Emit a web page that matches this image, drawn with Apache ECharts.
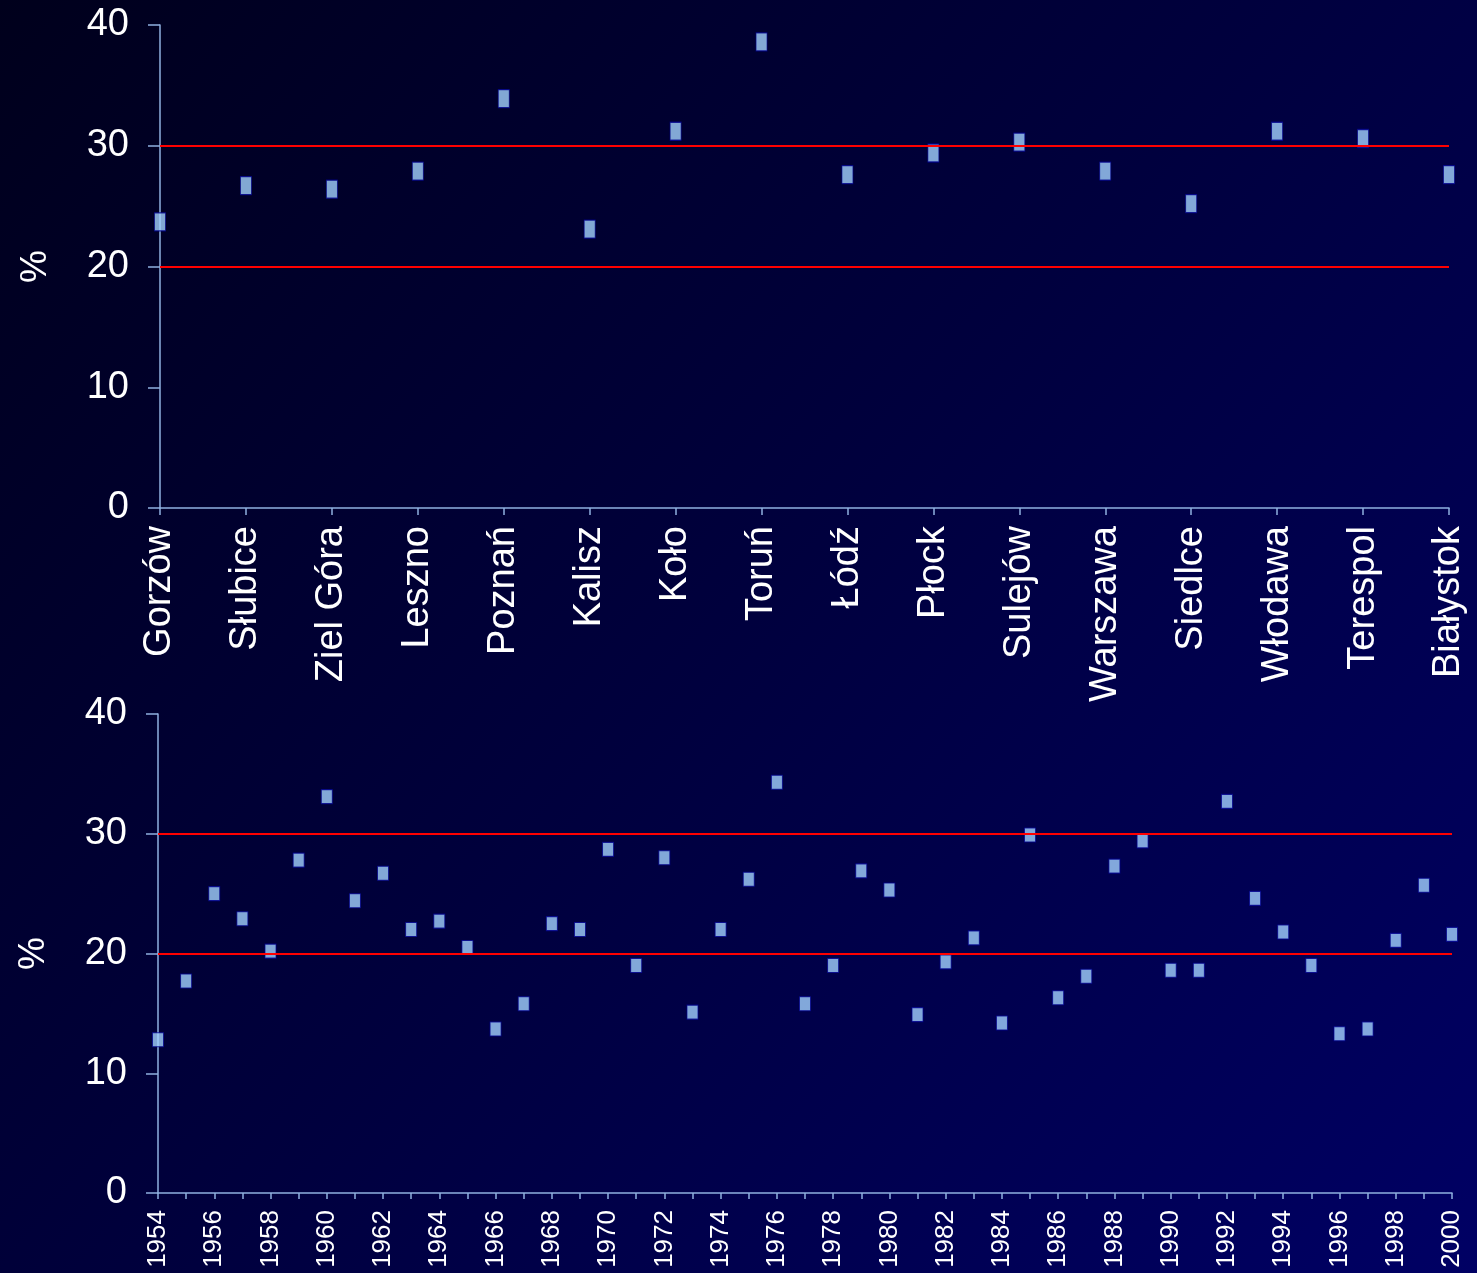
<!DOCTYPE html>
<html>
<head>
<meta charset="utf-8">
<title>chart</title>
<script src="https://cdn.jsdelivr.net/npm/echarts@6/dist/echarts.min.js"></script>
<style>
  html, body { margin: 0; padding: 0; }
  #chart { width: 1477px; height: 1273px; }
</style>
</head>
<body>
<div id="chart"></div>
<script>
  // top panel: cities
  var cities = ['Gorzów', 'Słubice', 'Ziel Góra', 'Leszno', 'Poznań', 'Kalisz', 'Koło', 'Toruń',
    'Łódź', 'Płock', 'Sulejów', 'Warszawa', 'Siedlce', 'Włodawa', 'Terespol', 'Białystok'];
  var cityValues = [23.7, 26.7, 26.4, 27.9, 33.9, 23.1, 31.2, 38.6,
    27.6, 29.4, 30.3, 27.9, 25.2, 31.2, 30.6, 27.6];

  // bottom panel: years
  var years = [];
  for (var y = 1954; y <= 2000; y++) years.push(String(y));
  var yearValues = [
    12.8, 17.7, 25.0, 22.9, 20.2, 27.8, 33.1, 24.4, 26.7, 22.0,
    22.7, 20.5, 13.7, 15.8, 22.5, 22.0, 28.7, 19.0, 28.0, 15.1,
    22.0, 26.2, 34.3, 15.8, 19.0, 26.9, 25.3, 14.9, 19.3, 21.3,
    14.2, 29.9, 16.3, 18.1, 27.3, 29.4, 18.6, 18.6, 32.7, 24.6,
    21.8, 19.0, 13.3, 13.7, 21.1, 25.7, 21.6
  ];

  var yTicks = [0, 40, 10];   // min, max, interval
  var limits = [20, 30];      // red reference lines

  var font = 'Liberation Sans, Arial, sans-serif';
  var axisColor = '#8fb0e0';

  function yAxisFor(gridIndex) {
    return {
      type: 'value',
      gridIndex: gridIndex,
      min: yTicks[0],
      max: yTicks[1],
      interval: yTicks[2],
      name: '%',
      nameLocation: 'middle',
      nameRotate: 90,
      nameGap: 106,
      nameTextStyle: { color: '#fff', fontSize: 37, fontFamily: font },
      axisLine: { show: true, lineStyle: { color: axisColor, width: 1.5 } },
      axisTick: { show: true, length: 12, lineStyle: { color: axisColor, width: 1.5 } },
      axisLabel: { color: '#fff', fontSize: 38, fontFamily: font, margin: 31 },
      splitLine: { show: false }
    };
  }

  function refLines() {
    return {
      silent: true,
      symbol: 'none',
      label: { show: false },
      lineStyle: { color: '#ff0000', width: 2, type: 'solid' },
      data: limits.map(function (v) { return { yAxis: v }; })
    };
  }

  var markerStyle = { color: '#a2d2ff', borderColor: '#000090', borderWidth: 1 };

  var myChart = echarts.init(document.getElementById('chart'));
  var option = {
    animation: false,
    backgroundColor: new echarts.graphic.LinearGradient(0, 0, 1, 1, [
      { offset: 0, color: '#00001c' },
      { offset: 0.5, color: '#00003e' },
      { offset: 1, color: '#000064' }
    ]),
    grid: [
      { left: 160, top: 25, right: 28, height: 483 },
      { left: 158, top: 714, right: 25, height: 479 }
    ],
    xAxis: [
      {
        type: 'category',
        gridIndex: 0,
        data: cities,
        boundaryGap: false,
        axisLine: { show: true, lineStyle: { color: axisColor, width: 1.5 } },
        axisTick: { show: true, length: 7, lineStyle: { color: axisColor, width: 1.5 } },
        axisLabel: { color: '#fff', fontSize: 38, fontFamily: font, rotate: 90, margin: 18, interval: 0 },
        splitLine: { show: false }
      },
      {
        type: 'category',
        gridIndex: 1,
        data: years,
        boundaryGap: false,
        axisLine: { show: true, lineStyle: { color: axisColor, width: 1.5 } },
        axisTick: { show: true, length: 6, interval: 0, lineStyle: { color: axisColor, width: 1.5 } },
        axisLabel: { color: '#fff', fontSize: 26, fontFamily: font, rotate: 90, margin: 17, interval: 1 },
        splitLine: { show: false }
      }
    ],
    yAxis: [yAxisFor(0), yAxisFor(1)],
    series: [
      {
        type: 'scatter',
        xAxisIndex: 0,
        yAxisIndex: 0,
        symbol: 'rect',
        symbolSize: [11, 18],
        itemStyle: markerStyle,
        data: cityValues,
        markLine: refLines(),
        z: 3
      },
      {
        type: 'scatter',
        xAxisIndex: 1,
        yAxisIndex: 1,
        symbol: 'rect',
        symbolSize: [11, 14],
        itemStyle: markerStyle,
        data: yearValues,
        markLine: refLines(),
        z: 3
      }
    ]
  };
  myChart.setOption(option);
</script>
</body>
</html>
